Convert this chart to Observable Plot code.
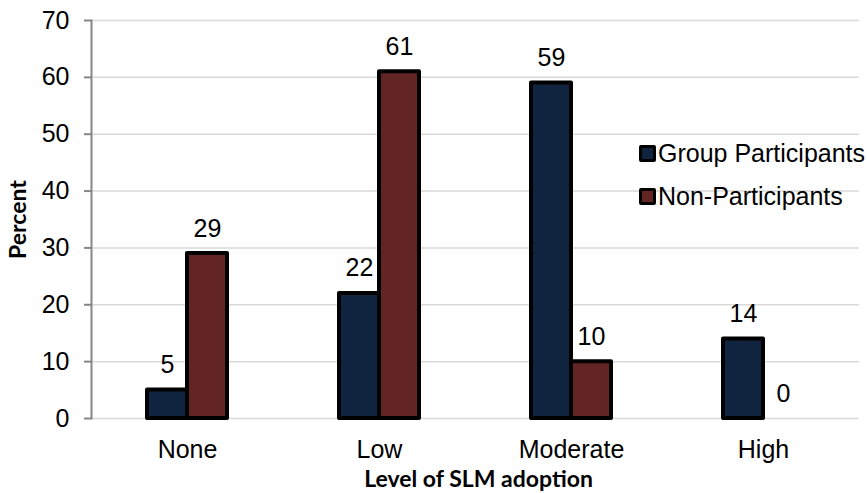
<!DOCTYPE html>
<html>
<head>
<meta charset="utf-8">
<script src="https://cdn.jsdelivr.net/npm/d3@7"></script>
<script src="https://cdn.jsdelivr.net/npm/@observablehq/plot@0.6"></script>
<style>
  body { margin: 0; background: #fff; }
  #chart { position: relative; width: 867px; height: 493px; font-family: "Liberation Sans", Arial, sans-serif; }
  #chart svg { display: block; }
  .legend { position: absolute; left: 639px; top: 136px; font-family: "Liberation Sans", Arial, sans-serif; font-size: 25px; color: #000; }
  .legend-item { display: flex; align-items: center; height: 34px; margin-bottom: 9px; white-space: nowrap; }
  .legend-swatch { width: 11px; height: 11px; border: 3px solid #000; border-radius: 2px; margin-right: 2px; }
</style>
</head>
<body>
<div id="chart"></div>
<script>
// Share of respondents (%) by level of SLM adoption
const levels = ["None", "Low", "Moderate", "High"];
const seriesNames = ["Group Participants", "Non-Participants"];
const groupParticipants = [5, 22, 59, 14];
const nonParticipants = [29, 61, 10, 0];
const seriesColors = ["#11243f", "#632523"];
const yTicks = [0, 10, 20, 30, 40, 50, 60, 70];

const rows = levels.flatMap((level, i) => [
  {level, series: seriesNames[0], value: groupParticipants[i]},
  {level, series: seriesNames[1], value: nonParticipants[i]}
]);

const chart = Plot.plot({
  width: 867,
  height: 493,
  marginTop: 20,
  marginBottom: 75,
  marginLeft: 90,
  marginRight: 0,
  style: {fontFamily: "'Liberation Sans', Arial, sans-serif", fontSize: "25px", color: "#000", background: "#fff"},
  fx: {domain: levels, range: [90, 860], paddingInner: 0, paddingOuter: 0},
  x: {domain: seriesNames, paddingInner: 0, paddingOuter: 1.38},
  y: {domain: [0, 70]},
  color: {domain: seriesNames, range: seriesColors},
  marks: [
    // horizontal gridlines (one segment per category band, contiguous)
    Plot.ruleY(yTicks, {y: d => d, stroke: "#d9d9d9", strokeWidth: 1.5}),
    // vertical axis line
    Plot.frame({anchor: "left", stroke: "#868686", strokeWidth: 2, facet: "super"}),
    Plot.axisY({ticks: yTicks, tickSize: 7, tickPadding: 15, stroke: "#868686", strokeWidth: 2, fill: "#000", label: null, fontSize: 25}),
    Plot.axisFx({anchor: "bottom", tickSize: 0, tickPadding: 22, label: null, fontSize: 25}),
    Plot.axisX({ticks: [], label: null}),
    Plot.barY(rows.filter(d => d.value > 0), {
      fx: "level", x: "series", y: "value", fill: "series",
      stroke: "#000", strokeWidth: 4, strokeLinejoin: "round"
    }),
    Plot.text(rows, {fx: "level", x: "series", y: "value", text: d => String(d.value), dy: -25, fontSize: 25, fill: "#000"}),
    // axis titles
    Plot.text(["Level of SLM adoption"], {frameAnchor: "bottom", lineAnchor: "middle", dy: 61, dx: 3, fontWeight: "bold", fontFamily: "Lato", fontSize: 23, fill: "#000", facet: "super"}),
    Plot.text(["Percent"], {frameAnchor: "left", textAnchor: "middle", lineAnchor: "middle", dx: -73, rotate: -90, fontWeight: "bold", fontFamily: "Lato", fontSize: 23, fill: "#000", facet: "super"})
  ]
});

const host = document.getElementById("chart");
host.appendChild(chart);

// legend overlaid inside the plot area
const legend = document.createElement("div");
legend.className = "legend";
seriesNames.forEach((name, i) => {
  const item = document.createElement("div");
  item.className = "legend-item";
  const sw = document.createElement("span");
  sw.className = "legend-swatch";
  sw.style.background = seriesColors[i];
  const label = document.createElement("span");
  label.textContent = name;
  item.append(sw, label);
  legend.appendChild(item);
});
host.appendChild(legend);
</script>
</body>
</html>
